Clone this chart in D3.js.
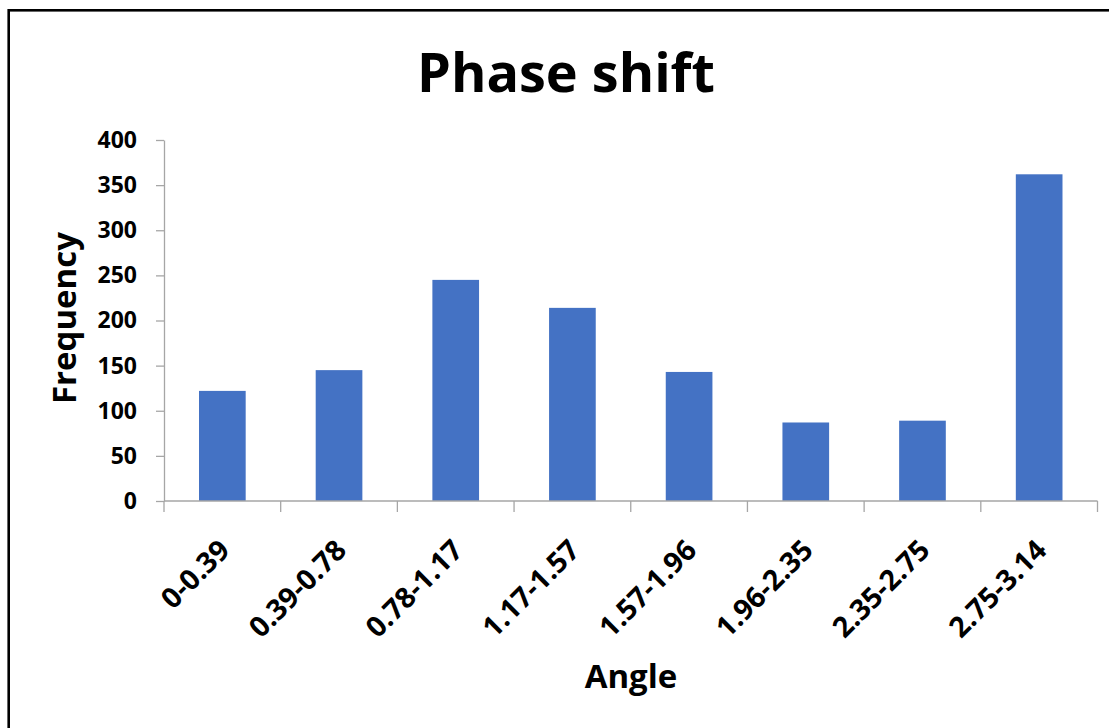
<!DOCTYPE html>
<html>
<head>
<meta charset="utf-8">
<script src="https://cdn.jsdelivr.net/npm/d3@7"></script>
<style>
  html, body { margin: 0; padding: 0; background: #fff; }
  svg { display: block; font-family: "Open Sans", "Noto Sans", sans-serif; }
</style>
</head>
<body>
<svg id="chart" width="1109" height="728"></svg>
<script>
// Histogram of phase-shift angles (radians), frequency per bin
const categories = ["0-0.39", "0.39-0.78", "0.78-1.17", "1.17-1.57", "1.57-1.96", "1.96-2.35", "2.35-2.75", "2.75-3.14"];
const frequencies = [122, 145, 245, 214, 143, 87, 89, 362];
const yTicks = [0, 50, 100, 150, 200, 250, 300, 350, 400];

const svg = d3.select("#chart");
const plot = { left: 164, right: 1097.5, top: 140, bottom: 501 };
const axisColor = "#a6a6a6";
const barColor = "#4472c4";

// outer frame (runs past the right and bottom edges)
svg.append("rect")
  .attr("x", 8.7).attr("y", 10.3)
  .attr("width", 1300).attr("height", 900)
  .attr("fill", "none").attr("stroke", "#000").attr("stroke-width", 2.6);

const x = d3.scaleBand().domain(categories).range([plot.left, plot.right]).paddingInner(0.6).paddingOuter(0.3);
const xb = d3.scaleBand().domain(categories).range([plot.left, plot.right]);
const y = d3.scaleLinear().domain([0, 400]).range([plot.bottom, plot.top]);

// bars
svg.append("g").selectAll("rect")
  .data(categories)
  .join("rect")
  .attr("x", d => x(d))
  .attr("y", (d, i) => y(frequencies[i]))
  .attr("width", x.bandwidth())
  .attr("height", (d, i) => y(0) - y(frequencies[i]))
  .attr("fill", barColor);

// y axis
const yAxis = svg.append("g")
  .attr("transform", `translate(${plot.left},0)`)
  .call(d3.axisLeft(y).tickValues(yTicks).tickSize(8).tickPadding(19).tickSizeOuter(0));
yAxis.select(".domain").attr("stroke", axisColor).attr("stroke-width", 1.3);
yAxis.selectAll(".tick line").attr("stroke", axisColor).attr("stroke-width", 1.3);
yAxis.selectAll(".tick text")
  .attr("fill", "#000").attr("font-size", 23).attr("font-weight", 700)
  .attr("font-family", "'Open Sans', sans-serif");

// x axis: domain line plus ticks at bin boundaries
const xAxis = svg.append("g").attr("transform", `translate(0,${plot.bottom})`);
xAxis.append("line")
  .attr("x1", plot.left).attr("x2", plot.right)
  .attr("stroke", axisColor).attr("stroke-width", 1.3);
const bounds = categories.map(c => xb(c)).concat([plot.right]);
xAxis.selectAll("line.tk")
  .data(bounds)
  .join("line")
  .attr("class", "tk")
  .attr("x1", d => d).attr("x2", d => d)
  .attr("y1", 0).attr("y2", 11)
  .attr("stroke", axisColor).attr("stroke-width", 1.3);

// rotated category labels
xAxis.selectAll("text")
  .data(categories)
  .join("text")
  .attr("transform", d => `translate(${xb(d) + xb.bandwidth() / 2 + 2},${44}) rotate(-45)`)
  .attr("text-anchor", "end")
  .attr("dy", "0.35em")
  .attr("font-size", 28.5).attr("font-weight", 700)
  .attr("fill", "#000")
  .text(d => d);

// title
svg.append("text")
  .attr("x", 566).attr("y", 92)
  .attr("text-anchor", "middle")
  .attr("font-size", 54).attr("font-weight", 700)
  .attr("fill", "#000")
  .text("Phase shift");

// axis titles
svg.append("text")
  .attr("x", 631).attr("y", 688)
  .attr("text-anchor", "middle")
  .attr("font-size", 33).attr("font-weight", 700)
  .attr("fill", "#000")
  .text("Angle");

svg.append("text")
  .attr("transform", `translate(76,318) rotate(-90)`)
  .attr("text-anchor", "middle")
  .attr("font-size", 33).attr("font-weight", 700)
  .attr("fill", "#000")
  .text("Frequency");
</script>
</body>
</html>
